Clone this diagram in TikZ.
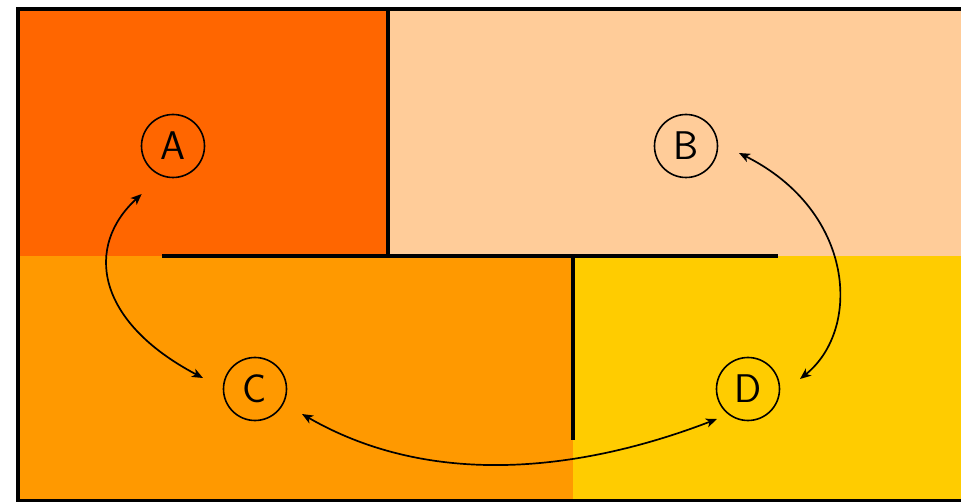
\documentclass[tikz,border=0pt]{standalone}
\usepackage{fontspec}
\usetikzlibrary{arrows.meta,calc}
\definecolor{cA}{HTML}{FF6600}
\definecolor{cB}{HTML}{FFCC99}
\definecolor{cC}{HTML}{FF9900}
\definecolor{cD}{HTML}{FFCC00}
\tikzset{
  letter/.style={circle,draw=black,line width=1.6pt,minimum size=63pt,inner sep=0pt,font=\fontsize{40}{40}\selectfont\sffamily},
  wall/.style={line width=4pt,black},
  link/.style={line width=1.7pt,{Stealth[length=11pt,width=9pt,inset=3pt]}-{Stealth[length=11pt,width=9pt,inset=3pt]}}
}
\begin{document}
\begin{tikzpicture}[x=1pt,y=1pt]
\useasboundingbox (0,0) rectangle (961,501);
\clip (0,0) rectangle (961,501);
% colour fields
\fill[cA] (18,245) rectangle (388,492);
\fill[cB] (388,245) rectangle (990,492);
\fill[cC] (18,0) rectangle (573,245);
\fill[cD] (573,0) rectangle (990,245);
% frame
\draw[line width=4.5pt] (18,0) rectangle (990,492);
% walls
\coordinate (w1) at (388,492);
\coordinate (w2) at (388,245);
\coordinate (h1) at (162,245);
\coordinate (h2) at (778,245);
\coordinate (v1) at (573,245);
\coordinate (v2) at (573,61);
\draw[wall] (w1) -- (w2);
\draw[wall] (h1) -- (h2);
\draw[wall] (v1) -- (v2);
% nodes
\node[letter] (A) at (173,355) {A};
\node[letter] (B) at (686,355) {B};
\node[letter] (C) at (255,112) {C};
\node[letter] (D) at (748,112) {D};
% connectors
\draw[link] ($(A)+(-31.3,-48)$) .. controls (85,255) and (95,180) .. ($(C)+(-52,11)$);
\draw[link] ($(B)+(53,-7)$) .. controls (855,290) and (862,172) .. ($(D)+(52,10)$);
\draw[link] ($(C)+(47,-25)$) .. controls (432,12) and (581.6,30) .. ($(D)+(-31,-30)$);
\end{tikzpicture}
\end{document}
